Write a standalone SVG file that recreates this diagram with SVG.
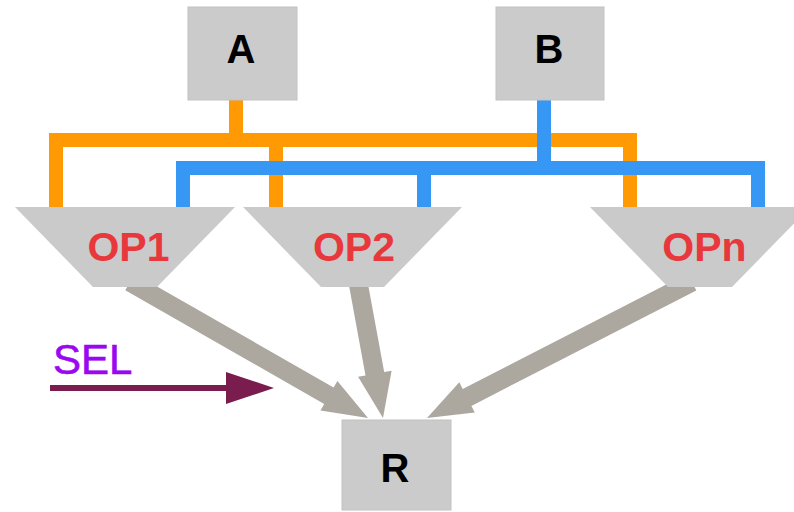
<svg xmlns="http://www.w3.org/2000/svg" width="794" height="512" viewBox="0 0 794 512">
  <style>
    .box { fill: #cbcbcb; stroke: #c2c2c2; stroke-width: 1; }
    .mux { fill: #cacaca; }
    .lbl { font-family: "Liberation Sans", Arial, sans-serif; font-weight: bold; font-size: 40px; fill: #000; text-anchor: middle; }
    .op { font-family: "Liberation Sans", Arial, sans-serif; font-weight: bold; font-size: 41px; fill: #e8383c; text-anchor: middle; }
    .sel { font-family: "Liberation Sans", Arial, sans-serif; font-size: 42px; fill: #9a08f0; stroke: #9a08f0; stroke-width: 0.6; }
    .wa { fill: none; stroke: #ff9a05; stroke-width: 14; stroke-linejoin: miter; stroke-linecap: butt; }
    .wb { fill: none; stroke: #3697f5; stroke-width: 14; stroke-linejoin: miter; stroke-linecap: butt; }
    .out { fill: #aca79f; }
  </style>

  <!-- connectors -->
  <g id="connectors">
    <!-- operand A bus -->
    <path class="wa" d="M236,100 V140"/>
    <path class="wa" d="M56,207 V140 H630 V207"/>
    <path class="wa" d="M276,140 V207"/>
    <!-- operand B bus -->
    <path class="wb" d="M544,100 V168"/>
    <path class="wb" d="M183,207 V168 H758 V207"/>
    <path class="wb" d="M424,168 V207"/>
    <!-- results into R -->
    <polygon class="out" points="125.3,290.3 324.2,403.9 320.5,410.4 368,418 337.4,380.9 333.6,387.4 134.7,273.8"/>
    <polygon class="out" points="348.7,283.7 365.5,375.5 358.1,376.8 383,418 391.6,370.7 384.2,372.0 367.3,280.3"/>
    <polygon class="out" points="687.7,273.6 462.7,389.0 459.3,382.3 427,418 474.8,412.6 471.4,405.9 696.3,290.5"/>
    <!-- select input -->
    <line x1="50" y1="388" x2="230" y2="388" stroke="#7a1c4e" stroke-width="6"/>
    <polygon points="226,372 274,388 226,404" fill="#7a1c4e"/>
  </g>

  <g id="A">
    <rect class="box" x="188" y="7" width="109" height="93"/>
    <text class="lbl" x="241" y="63">A</text>
  </g>
  <g id="B">
    <rect class="box" x="496" y="7" width="108" height="93"/>
    <text class="lbl" x="549" y="63">B</text>
  </g>

  <g id="OP1">
    <polygon class="mux" points="15,207 235,207 157,287 93,287"/>
    <text class="op" x="128.5" y="261">OP1</text>
  </g>
  <g id="OP2">
    <polygon class="mux" points="243,207 462,207 384,287 321,287"/>
    <text class="op" x="354" y="261">OP2</text>
  </g>
  <g id="OPn">
    <polygon class="mux" points="590,207 810,207 732,287 668,287"/>
    <text class="op" x="704.5" y="261">OPn</text>
  </g>

  <g id="R">
    <rect class="box" x="342" y="420" width="109" height="90"/>
    <text class="lbl" x="395" y="482">R</text>
  </g>

  <g id="SEL">
    <text class="sel" x="53" y="374">SEL</text>
  </g>
</svg>
